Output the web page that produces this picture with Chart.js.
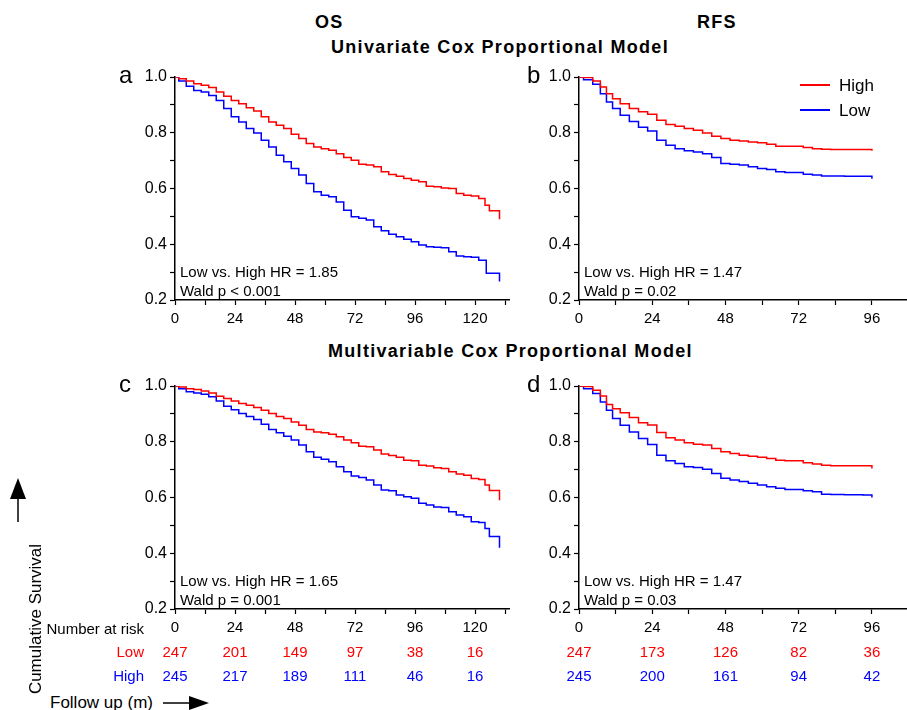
<!DOCTYPE html>
<html>
<head>
<meta charset="utf-8">
<script src="https://cdn.jsdelivr.net/npm/chart.js@4.4.1/dist/chart.umd.min.js"></script>
<style>
  body { margin: 0; background: #fff; font-family: "Liberation Sans", Arial, sans-serif; }
  #page { position: relative; width: 907px; height: 710px; overflow: hidden; }
  canvas { position: absolute; }
  .txt { position: absolute; white-space: nowrap; color: #000; line-height: 1; }
  .title { font-weight: bold; font-size: 18px; letter-spacing: 1.3px; }
  .letter { font-size: 24px; }
  .note { font-size: 15px; line-height: 19px; }
  .leg { font-size: 17px; }
</style>
</head>
<body>
<div id="page">
  <canvas id="chartA" width="400" height="269" style="left:110px;top:61px"></canvas>
  <canvas id="chartB" width="393" height="269" style="left:514px;top:61px"></canvas>
  <canvas id="chartC" width="510" height="319" style="left:0px;top:370px"></canvas>
  <canvas id="chartD" width="393" height="319" style="left:514px;top:370px"></canvas>

  <div class="txt title" style="left:315px;top:13px">OS</div>
  <div class="txt title" style="left:697px;top:13px">RFS</div>
  <div class="txt title" style="left:331px;top:38px">Univariate Cox Proportional Model</div>
  <div class="txt title" style="left:328px;top:342px">Multivariable Cox Proportional Model</div>

  <div class="txt letter" style="left:119px;top:63px">a</div>
  <div class="txt letter" style="left:527px;top:63px">b</div>
  <div class="txt letter" style="left:119px;top:372px">c</div>
  <div class="txt letter" style="left:527px;top:372px">d</div>

  <div class="txt note" style="left:180px;top:262px">Low vs. High HR = 1.85<br>Wald p &lt; 0.001</div>
  <div class="txt note" style="left:584px;top:262px">Low vs. High HR = 1.47<br>Wald p = 0.02</div>
  <div class="txt note" style="left:180px;top:571px">Low vs. High HR = 1.65<br>Wald p = 0.001</div>
  <div class="txt note" style="left:584px;top:571px">Low vs. High HR = 1.47<br>Wald p = 0.03</div>

  <div style="position:absolute;left:800px;top:84px;width:30px;height:1.5px;background:#ff0000"></div>
  <div style="position:absolute;left:800px;top:109px;width:30px;height:1.5px;background:#0000ff"></div>
  <div class="txt leg" style="left:839px;top:77px">High</div>
  <div class="txt leg" style="left:839px;top:102px">Low</div>

  <div class="txt" style="left:35px;top:619px;font-size:17px;transform:translate(-50%,-50%) rotate(-90deg)">Cumulative Survival</div>
  <div class="txt" style="left:50px;top:694px;font-size:17px">Follow up (m)</div>
  <svg style="position:absolute;left:0;top:0" width="907" height="710">
    <line x1="18" y1="522" x2="18" y2="495" stroke="#000" stroke-width="1.5"/>
    <polygon points="10,499 26,499 18,478" fill="#000"/>
    <line x1="163" y1="703" x2="192" y2="703" stroke="#000" stroke-width="1.5"/>
    <polygon points="189,696 189,710 209,703" fill="#000"/>
  </svg>
</div>

<script>
// OS panels (a, c), months
const osGrid = [0, 3, 6, 9, 12, 15, 18, 21, 24, 27, 30, 33, 36, 39, 42, 45, 48, 51, 54, 57, 60,
    63, 66, 69, 72, 75, 78, 81, 84, 87, 90, 93, 96, 99, 102, 105, 108, 111, 114, 117, 120, 123];

const osHighA = [1.0, 0.994, 0.986, 0.976, 0.970, 0.962, 0.946, 0.931, 0.916, 0.904, 0.890, 0.878, 0.857, 0.839,
    0.827, 0.815, 0.795, 0.779, 0.761, 0.749, 0.743, 0.737, 0.725, 0.711, 0.701, 0.687, 0.684, 0.678,
    0.660, 0.650, 0.644, 0.636, 0.630, 0.624, 0.608, 0.606, 0.602, 0.600, 0.582, 0.576, 0.573, 0.564];
const osHighATailT = [125, 126.5, 129.8, 129.8];
const osHighATail  = [0.54, 0.52, 0.52, 0.49];

const osLowA = [1.0, 0.986, 0.967, 0.952, 0.946, 0.934, 0.916, 0.887, 0.857, 0.839, 0.815, 0.799, 0.773, 0.749,
    0.719, 0.696, 0.672, 0.648, 0.618, 0.588, 0.576, 0.570, 0.552, 0.522, 0.499, 0.493, 0.487, 0.463,
    0.448, 0.436, 0.427, 0.418, 0.409, 0.397, 0.391, 0.389, 0.387, 0.373, 0.358, 0.355, 0.353, 0.343];
const osLowATailT = [126, 129.8, 129.8];
const osLowATail  = [0.296, 0.296, 0.266];

const osHighC = [1.0, 0.996, 0.990, 0.987, 0.982, 0.975, 0.963, 0.955, 0.946, 0.937, 0.931, 0.923, 0.913, 0.901,
    0.891, 0.883, 0.871, 0.859, 0.844, 0.835, 0.832, 0.827, 0.818, 0.806, 0.796, 0.784, 0.782, 0.770,
    0.756, 0.751, 0.744, 0.734, 0.732, 0.716, 0.713, 0.707, 0.704, 0.692, 0.684, 0.680, 0.668, 0.665];
const osHighCTailT = [125, 126.5, 129.8, 129.8];
const osHighCTail  = [0.645, 0.625, 0.625, 0.59];

const osLowC = [1.0, 0.99, 0.979, 0.975, 0.970, 0.961, 0.946, 0.927, 0.915, 0.901, 0.891, 0.880, 0.863, 0.844,
    0.832, 0.820, 0.806, 0.788, 0.764, 0.744, 0.737, 0.728, 0.710, 0.692, 0.677, 0.672, 0.663, 0.645,
    0.627, 0.624, 0.609, 0.603, 0.597, 0.579, 0.573, 0.566, 0.564, 0.549, 0.537, 0.531, 0.513, 0.510];
const osLowCTailT = [125, 126.5, 129.8, 129.8];
const osLowCTail  = [0.489, 0.46, 0.46, 0.42];

// RFS panels (b, d)
const rfsTimes = [0, 3, 6, 8, 10, 12, 15, 18, 21, 24, 27, 30, 33, 36, 39, 42, 45, 48, 51, 54, 57, 60,
    63, 66, 69, 72, 75, 78, 81, 84, 90, 96, 96];
const rfsHighB = [1.0, 0.998, 0.986, 0.964, 0.94, 0.922, 0.904, 0.887, 0.875, 0.866, 0.845,
    0.830, 0.823, 0.815, 0.809, 0.799, 0.787, 0.779, 0.773, 0.770, 0.767, 0.764, 0.759, 0.752, 0.752,
    0.752, 0.747, 0.743, 0.741, 0.740, 0.740, 0.740, 0.735];
const rfsLowB = [1.0, 0.99, 0.974, 0.94, 0.91, 0.887, 0.863, 0.84, 0.82, 0.806, 0.773,
    0.755, 0.743, 0.735, 0.731, 0.725, 0.711, 0.690, 0.687, 0.684, 0.678, 0.672, 0.668, 0.660, 0.657,
    0.657, 0.651, 0.648, 0.645, 0.645, 0.644, 0.644, 0.635];
const rfsHighD = [1.0, 0.998, 0.985, 0.964, 0.934, 0.918, 0.904, 0.887, 0.868, 0.86, 0.833,
    0.814, 0.806, 0.796, 0.791, 0.788, 0.776, 0.764, 0.758, 0.752, 0.748, 0.744, 0.740, 0.734, 0.732,
    0.732, 0.725, 0.720, 0.716, 0.714, 0.714, 0.714, 0.704];
const rfsLowD = [1.0, 0.99, 0.973, 0.943, 0.913, 0.883, 0.859, 0.835, 0.812, 0.79, 0.752,
    0.732, 0.722, 0.710, 0.708, 0.701, 0.686, 0.669, 0.663, 0.657, 0.651, 0.645, 0.639, 0.633, 0.629,
    0.629, 0.624, 0.621, 0.612, 0.611, 0.610, 0.609, 0.600];

// number at risk
const osRiskTimes = [0, 24, 48, 72, 96, 120];
const osRiskLow   = [247, 201, 149, 97, 38, 16];
const osRiskHigh  = [245, 217, 189, 111, 46, 16];
const rfsRiskTimes = [0, 24, 48, 72, 96];
const rfsRiskLow   = [247, 173, 126, 82, 36];
const rfsRiskHigh  = [245, 200, 161, 94, 42];

const RED = '#ff0000';
const BLUE = '#0000ff';
const FONT = '"Liberation Sans", Arial, sans-serif';

function pts(times, vals, tailT, tail) {
    const out = times.map((t, i) => ({ x: t, y: vals[i] }));
    if (tailT) tailT.forEach((t, i) => out.push({ x: t, y: tail[i] }));
    return out;
}

const riskTable = {
    id: 'riskTable',
    afterDraw(chart, args, opts) {
        if (!opts.rows) return;
        const { ctx, chartArea, scales } = chart;
        ctx.save();
        ctx.font = '15px ' + FONT;
        ctx.textBaseline = 'middle';
        if (opts.labels) {
            ctx.fillStyle = '#000';
            ctx.textAlign = 'right';
            ctx.fillText('Number at risk', 144, chartArea.bottom + 21);
        }
        opts.rows.forEach((row, i) => {
            const y = chartArea.bottom + 44 + i * 24;
            ctx.fillStyle = row.color;
            if (opts.labels) {
                ctx.textAlign = 'right';
                ctx.fillText(row.label, 144, y);
            }
            ctx.textAlign = 'center';
            opts.times.forEach((t, j) => {
                ctx.fillText(String(row.values[j]), scales.x.getPixelForValue(t), y);
            });
        });
        ctx.restore();
    }
};

function makePanel(id, high, low, xMax, yWidth, risk) {
    new Chart(document.getElementById(id), {
        type: 'line',
        data: {
            datasets: [
                { label: 'High', data: high, borderColor: RED, borderWidth: 1.5, stepped: 'middle', pointRadius: 0, fill: false },
                { label: 'Low', data: low, borderColor: BLUE, borderWidth: 1.5, stepped: 'middle', pointRadius: 0, fill: false },
            ],
        },
        options: {
            responsive: false,
            animation: false,
            devicePixelRatio: 1,
            layout: { padding: { top: 16, right: 0, left: 0, bottom: risk ? 50 : 0 } },
            plugins: {
                legend: { display: false },
                tooltip: { enabled: false },
                riskTable: risk || {},
            },
            scales: {
                x: {
                    type: 'linear',
                    min: 0,
                    max: xMax,
                    afterBuildTicks: (s) => {
                        const t = [];
                        for (let v = 0; v <= xMax; v += 12) t.push({ value: v });
                        s.ticks = t;
                    },
                    afterFit: (s) => { s.height = 30; },
                    border: { color: '#000', width: 1.5 },
                    grid: { drawOnChartArea: false, drawTicks: true, tickLength: 5, tickColor: '#000', tickWidth: 1.2 },
                    ticks: {
                        autoSkip: false,
                        maxRotation: 0,
                        padding: 5,
                        color: '#000',
                        font: { family: FONT, size: 15 },
                        callback: (v) => (v % 24 === 0 ? String(v) : ''),
                    },
                },
                y: {
                    min: 0.2,
                    max: 1.0,
                    afterFit: (s) => { s.width = yWidth; },
                    border: { color: '#000', width: 1.5 },
                    grid: { drawOnChartArea: false, drawTicks: true, tickLength: 5, tickColor: '#000', tickWidth: 1.2 },
                    ticks: {
                        stepSize: 0.1,
                        autoSkip: false,
                        padding: 3,
                        color: '#000',
                        font: { family: FONT, size: 16 },
                        callback: (v) => (Math.round(v * 10) % 2 === 0 ? v.toFixed(1) : ''),
                    },
                },
            },
        },
        plugins: [riskTable],
    });
}

makePanel('chartA', pts(osGrid, osHighA, osHighATailT, osHighATail), pts(osGrid, osLowA, osLowATailT, osLowATail), 134, 65, null);
makePanel('chartB', pts(rfsTimes, rfsHighB), pts(rfsTimes, rfsLowB), 107.5, 65, null);
makePanel('chartC', pts(osGrid, osHighC, osHighCTailT, osHighCTail), pts(osGrid, osLowC, osLowCTailT, osLowCTail), 134, 175, {
    labels: true,
    times: osRiskTimes,
    rows: [
        { label: 'Low', color: RED, values: osRiskLow },
        { label: 'High', color: BLUE, values: osRiskHigh },
    ],
});
makePanel('chartD', pts(rfsTimes, rfsHighD), pts(rfsTimes, rfsLowD), 107.5, 65, {
    labels: false,
    times: rfsRiskTimes,
    rows: [
        { label: 'Low', color: RED, values: rfsRiskLow },
        { label: 'High', color: BLUE, values: rfsRiskHigh },
    ],
});
</script>
</body>
</html>
